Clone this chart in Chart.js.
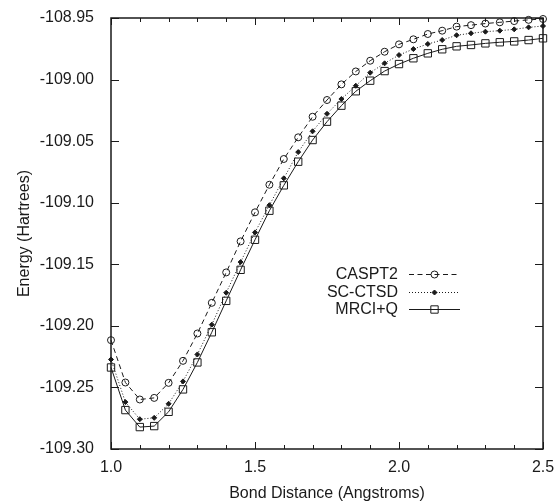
<!DOCTYPE html>
<html>
<head>
<meta charset="utf-8">
<script src="https://cdn.jsdelivr.net/npm/chart.js@4.4.0/dist/chart.umd.min.js"></script>
<style>
  html, body { margin: 0; padding: 0; background: #fff; }
  #wrap { width: 556px; height: 502px; }
</style>
</head>
<body>
<div id="wrap"><canvas id="chart"></canvas></div>
<script>
// bond distances (Angstroms)
const bondDistance = [1.00, 1.05, 1.10, 1.15, 1.20, 1.25, 1.30, 1.35, 1.40, 1.45,
  1.50, 1.55, 1.60, 1.65, 1.70, 1.75, 1.80, 1.85, 1.90, 1.95,
  2.00, 2.05, 2.10, 2.15, 2.20, 2.25, 2.30, 2.35, 2.40, 2.45, 2.50];

// energies (Hartrees)
const caspt2 = [-109.2116, -109.2460, -109.2598, -109.2585, -109.2463, -109.2284, -109.2062, -109.1813, -109.1566, -109.1314,
  -109.1078, -109.0854, -109.0645, -109.0469, -109.0302, -109.0166, -109.0039, -108.9934, -108.9847, -108.9774,
  -108.9714, -108.9673, -108.9630, -108.9603, -108.9570, -108.9558, -108.9545, -108.9535, -108.9525, -108.9515, -108.9508];
const scctsd = [-109.2273, -109.2619, -109.2758, -109.2747, -109.2633, -109.2451, -109.2232, -109.1990, -109.1731, -109.1482,
  -109.1241, -109.1020, -109.0802, -109.0589, -109.0420, -109.0278, -109.0158, -109.0050, -108.9944, -108.9868,
  -108.9801, -108.9752, -108.9711, -108.9679, -108.9640, -108.9624, -108.9611, -108.9603, -108.9592, -108.9576, -108.9565];
const mrciq = [-109.2338, -109.2684, -109.2822, -109.2814, -109.2698, -109.2516, -109.2297, -109.2052, -109.1797, -109.1545,
  -109.1301, -109.1065, -109.0859, -109.0667, -109.0491, -109.0342, -109.0212, -109.0095, -109.0009, -108.9931,
  -108.9874, -108.9827, -108.9787, -108.9754, -108.9730, -108.9719, -108.9706, -108.9697, -108.9690, -108.9679, -108.9665];

const seriesNames = ['CASPT2', 'SC-CTSD', 'MRCI+Q'];

const ink = '#1a1a1a';
const fontFamily = '"Liberation Sans", Arial, Helvetica, sans-serif';

function toPoints(values) {
  return bondDistance.map((d, i) => ({ x: d, y: values[i] }));
}

function isHalf(v) {
  return Math.abs(v * 2 - Math.round(v * 2)) < 1e-6;
}

// frame with inward ticks on all four sides (gnuplot style)
const frameTicks = {
  id: 'frameTicks',
  beforeDatasetsDraw(chart) {
    const { ctx, chartArea: a, scales: { x, y } } = chart;
    ctx.save();
    ctx.strokeStyle = ink;
    ctx.lineWidth = 1;
    ctx.beginPath();
    x.ticks.forEach(t => {
      const px = Math.round(x.getPixelForValue(t.value)) + 0.5;
      const len = isHalf(t.value) ? 7 : 4;
      ctx.moveTo(px, a.bottom); ctx.lineTo(px, a.bottom - len);
      ctx.moveTo(px, a.top); ctx.lineTo(px, a.top + len);
    });
    y.ticks.forEach(t => {
      const py = Math.round(y.getPixelForValue(t.value)) + 0.5;
      ctx.moveTo(a.left, py); ctx.lineTo(a.left + 8, py);
      ctx.moveTo(a.right, py); ctx.lineTo(a.right - 8, py);
    });
    ctx.stroke();
    ctx.lineWidth = 1.5;
    ctx.strokeRect(a.left, a.top, a.right - a.left, a.bottom - a.top);
    ctx.restore();
  }
};

// legend: right-aligned name, then a line sample with the marker in the middle
const sampleLegend = {
  id: 'sampleLegend',
  afterDraw(chart) {
    const ctx = chart.ctx;
    const textRight = 398, lineStart = 409, lineEnd = 460, top = 274, step = 17.5;
    ctx.save();
    ctx.font = '16px ' + fontFamily;
    ctx.textAlign = 'right';
    ctx.textBaseline = 'middle';
    chart.data.datasets.forEach((ds, i) => {
      const yy = Math.round(top + i * step) + 0.5;
      ctx.fillStyle = ink;
      ctx.fillText(ds.label, textRight, yy);
      ctx.strokeStyle = ds.borderColor;
      ctx.lineWidth = ds.borderWidth;
      ctx.setLineDash(ds.borderDash || []);
      ctx.beginPath();
      ctx.moveTo(lineStart, yy);
      ctx.lineTo(lineEnd, yy);
      ctx.stroke();
      ctx.setLineDash([]);
      ctx.fillStyle = ds.pointBackgroundColor;
      ctx.strokeStyle = ds.pointBorderColor;
      ctx.lineWidth = ds.pointBorderWidth;
      Chart.helpers.drawPoint(ctx, {
        pointStyle: ds.pointStyle,
        radius: ds.pointRadius,
        borderWidth: ds.pointBorderWidth,
        rotation: 0
      }, (lineStart + lineEnd) / 2, yy);
    });
    ctx.restore();
  }
};

const ctx = document.getElementById('chart').getContext('2d');
new Chart(ctx, {
  type: 'line',
  data: {
    datasets: [{
      label: seriesNames[0],
      data: toPoints(caspt2),
      borderColor: ink,
      borderWidth: 1,
      borderDash: [5, 3.5],
      pointStyle: 'circle',
      pointRadius: 3.5,
      pointBorderWidth: 1,
      pointBorderColor: ink,
      pointBackgroundColor: 'rgba(0,0,0,0)',
      clip: false
    }, {
      label: seriesNames[1],
      data: toPoints(scctsd),
      borderColor: ink,
      borderWidth: 1,
      borderDash: [1, 2],
      pointStyle: 'rectRot',
      pointRadius: 2.5,
      pointBorderWidth: 1,
      pointBorderColor: ink,
      pointBackgroundColor: ink,
      clip: false
    }, {
      label: seriesNames[2],
      data: toPoints(mrciq),
      borderColor: ink,
      borderWidth: 1,
      borderDash: [],
      pointStyle: 'rect',
      pointRadius: 5.2,
      pointBorderWidth: 1,
      pointBorderColor: ink,
      pointBackgroundColor: 'rgba(0,0,0,0)',
      clip: false
    }]
  },
  options: {
    responsive: true,
    maintainAspectRatio: false,
    animation: false,
    layout: { padding: { top: 18, right: 13, left: 0, bottom: 0 } },
    plugins: {
      legend: { display: false },
      tooltip: { enabled: false }
    },
    elements: { line: { tension: 0 } },
    scales: {
      x: {
        type: 'linear',
        min: 1.0,
        max: 2.5,
        grid: { display: false, drawTicks: false },
        border: { display: false },
        ticks: {
          stepSize: 0.1,
          autoSkip: false,
          maxRotation: 0,
          padding: 9,
          color: ink,
          font: { family: fontFamily, size: 16 },
          callback: v => isHalf(v) ? v.toFixed(1) : ''
        },
        title: {
          display: true,
          text: 'Bond Distance (Angstroms)',
          color: ink,
          font: { family: fontFamily, size: 16, lineHeight: 1 },
          padding: { top: 0, bottom: 0 }
        },
        afterFit: s => {
          s.height = 53;
          s.paddingLeft = 0;
          s.paddingRight = 0;
        }
      },
      y: {
        type: 'linear',
        min: -109.30,
        max: -108.95,
        grid: { display: false, drawTicks: false },
        border: { display: false },
        ticks: {
          stepSize: 0.05,
          padding: 17,
          color: ink,
          font: { family: fontFamily, size: 16 },
          callback: v => v.toFixed(2)
        },
        title: {
          display: true,
          text: 'Energy (Hartrees)',
          color: ink,
          font: { family: fontFamily, size: 16, lineHeight: 1 },
          padding: { top: 17, bottom: 0 }
        },
        afterFit: s => {
          s.width = 111;
          s.paddingTop = 0;
          s.paddingBottom = 0;
        }
      }
    }
  },
  plugins: [frameTicks, sampleLegend]
});
</script>
</body>
</html>
